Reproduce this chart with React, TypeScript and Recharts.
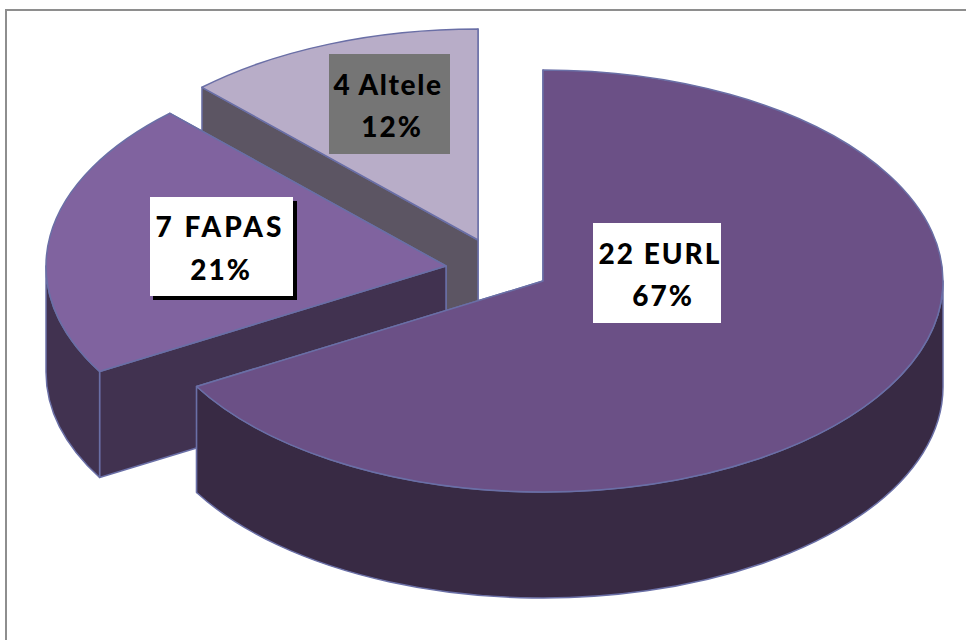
import React from "react";
import { PieChart, Pie } from "recharts";

const categories = ["4 Altele", "7 FAPAS", "22 EURL"];
const counts = [4, 7, 22];
const percents = ["12%", "21%", "67%"];

const pieData = categories.map((name, i) => ({ name, value: counts[i], percent: percents[i] }));

const W = 966;
const H = 640;
const RX = 400;
const TILT = 211 / 400;
const DEPTH = 106;
const EDGE = "#6a6fa6";

type Look = {
  top: string;
  face: string;
  wall: string;
  dx: number;
  dy: number;
  box: [number, number, number, number];
  boxFill: string;
  shadow: boolean;
  base: [number, number];
  mids: [number, number];
  spacing: number;
};

const looks: Record<string, Look> = {
  "22 EURL": { top: "#6b5086", face: "#382a44", wall: "#382a44", dx: 45, dy: 14, box: [593, 223, 128, 100], boxFill: "#ffffff", shadow: false, base: [264, 306], mids: [660, 663], spacing: 2 },
  "7 FAPAS": { top: "#80639f", face: "#413250", wall: "#413250", dx: -52, dy: -1, box: [150, 197, 143, 99], boxFill: "#ffffff", shadow: true, base: [237, 280], mids: [220, 221], spacing: 3 },
  "4 Altele": { top: "#b8adc8", face: "#5c5563", wall: "#5c5563", dx: -20, dy: -27, box: [329, 54, 121, 100], boxFill: "#757575", shadow: false, base: [95, 137], mids: [388, 392], spacing: 1.6 },
};

const rad = (d: number) => (d * Math.PI) / 180;

function Slice3D(props: any) {
  const { cx, cy, outerRadius, startAngle, endAngle, name, payload } = props;
  const look = looks[name ?? payload?.name];
  const ox = cx + look.dx;
  const oy = cy + look.dy;
  const ry = outerRadius * TILT;
  const pt = (a: number, down = 0) => ({
    x: ox + outerRadius * Math.cos(rad(a)),
    y: oy - ry * Math.sin(rad(a)) + down,
  });
  const a0 = Math.min(startAngle, endAngle);
  const a1 = Math.max(startAngle, endAngle);
  const p0 = pt(a0);
  const p1 = pt(a1);
  const large = a1 - a0 > 180 ? 1 : 0;
  const top = `M${ox},${oy} L${p0.x},${p0.y} A${outerRadius},${ry} 0 ${large} 0 ${p1.x},${p1.y} Z`;
  const faceAt = (p: { x: number; y: number }) =>
    `M${ox},${oy} L${p.x},${p.y} L${p.x},${p.y + DEPTH} L${ox},${oy + DEPTH} Z`;

  // Outer wall: the part of the rim on the front half of the ellipse (180..360 degrees).
  const w0 = Math.max(a0, 180);
  const w1 = Math.min(a1, 360);
  let wall: string | null = null;
  if (w1 > w0) {
    const s = pt(w0);
    const e = pt(w1);
    wall = `M${s.x},${s.y} A${outerRadius},${ry} 0 0 0 ${e.x},${e.y} L${e.x},${e.y + DEPTH} A${outerRadius},${ry} 0 0 1 ${s.x},${s.y + DEPTH} Z`;
  }
  return (
    <g>
      <path d={faceAt(p0)} fill={look.face} stroke={EDGE} strokeWidth={1.5} strokeLinejoin="round" />
      <path d={faceAt(p1)} fill={look.face} stroke={EDGE} strokeWidth={1.5} strokeLinejoin="round" />
      {wall && <path d={wall} fill={look.wall} stroke={EDGE} strokeWidth={1.5} strokeLinejoin="round" />}
      <path d={top} fill={look.top} stroke={EDGE} strokeWidth={1.5} strokeLinejoin="round" />
    </g>
  );
}

function SliceLabel(props: any) {
  const name = props.name ?? props.payload?.name;
  const percent = props.payload?.percent ?? percents[categories.indexOf(name)];
  const look = looks[name];
  const [x, y, w, h] = look.box;
  const textStyle = {
    fontFamily: "Lato, 'Open Sans', sans-serif",
    fontWeight: 900,
    fontSize: 28,
    letterSpacing: look.spacing,
  };
  return (
    <g>
      {look.shadow && <rect x={x + 3} y={y + 4} width={w + 1} height={h} fill="#000000" />}
      <rect x={x} y={y} width={w} height={h} fill={look.boxFill} />
      <text x={look.mids[0]} y={look.base[0]} textAnchor="middle" fill="#000000" style={textStyle}>
        {name}
      </text>
      <text x={look.mids[1]} y={look.base[1]} textAnchor="middle" fill="#000000" style={{ ...textStyle, letterSpacing: 2 }}>
        {percent}
      </text>
    </g>
  );
}

export default function App() {
  return (
    <div style={{ position: "absolute", left: 0, top: 0, width: W, height: H, background: "#ffffff", overflow: "hidden" }}>
      <div style={{ position: "absolute", left: 5, top: 9, width: W - 5, height: 2, background: "#8e8e8e" }} />
      <div style={{ position: "absolute", left: 5, top: 9, width: 2, height: H - 9, background: "#8e8e8e" }} />
      <div style={{ position: "absolute", left: 0, top: 0 }}>
        <PieChart width={W} height={H} margin={{ top: 0, right: 0, bottom: 0, left: 0 }}>
          <Pie
            data={pieData}
            dataKey="value"
            nameKey="name"
            cx={498}
            cy={267}
            innerRadius={0}
            outerRadius={RX}
            startAngle={90}
            endAngle={450}
            stroke="none"
            shape={Slice3D}
            label={SliceLabel}
            labelLine={false}
            isAnimationActive={false}
          />
        </PieChart>
      </div>
    </div>
  );
}
